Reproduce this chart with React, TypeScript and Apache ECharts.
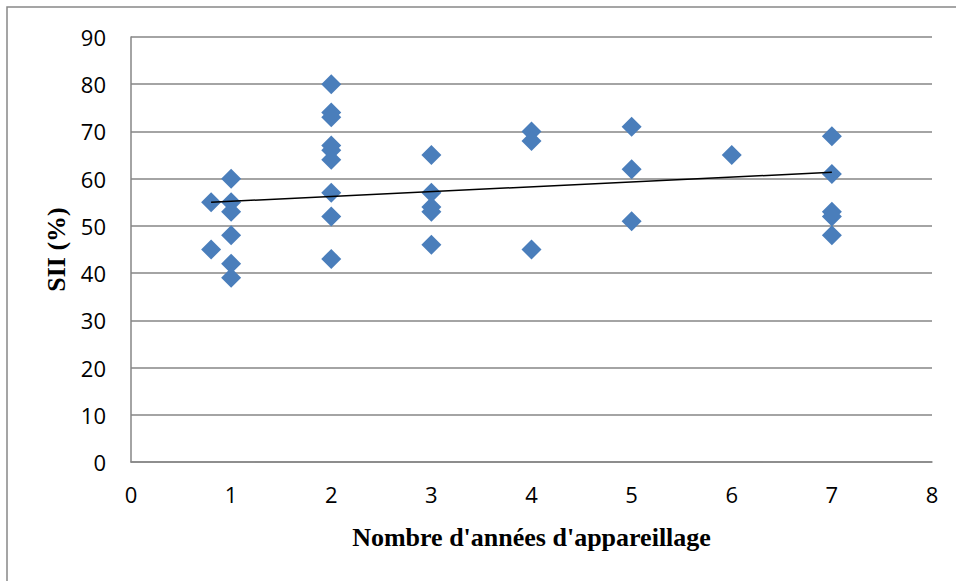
import React, { useEffect, useRef } from "react";
import * as echarts from "echarts";

const xValues = [0.8, 0.8, 1, 1, 1, 1, 1, 1, 2, 2, 2, 2, 2, 2, 2, 2, 2, 3, 3, 3, 3, 3, 4, 4, 4, 5, 5, 5, 6, 7, 7, 7, 7, 7];
const yValues = [55, 45, 60, 55, 53, 48, 42, 39, 80, 74, 73, 67, 66, 64, 57, 52, 43, 65, 57, 54, 53, 46, 70, 68, 45, 71, 62, 51, 65, 69, 61, 53, 52, 48];
const trendX = [0.8, 7];
const trendY = [55.0, 61.35];
const xTitle = "Nombre d'années d'appareillage";
const yTitle = "SII (%)";

export default function App() {
  const ref = useRef<HTMLDivElement>(null);
  useEffect(() => {
    if (!ref.current) return;
    const chart = echarts.init(ref.current, null, { renderer: "svg" });
    const labelFont = { fontFamily: "'Open Sans', 'Noto Sans', sans-serif", fontSize: 22, color: "#000" };
    const titleFont = { fontFamily: "'Liberation Serif', 'Times New Roman', serif", fontWeight: "bold", fontSize: 26, color: "#000" };
    chart.setOption({
      animation: false,
      backgroundColor: "#fff",
      graphic: [
        { type: "rect", shape: { x: 7, y: 7, width: 1000, height: 700 }, style: { fill: "none", stroke: "#888888", lineWidth: 1.5 }, silent: true, z: -1 },
      ],
      grid: { left: 131, right: 24, top: 37, bottom: 119 },
      xAxis: {
        type: "value", min: 0, max: 8, interval: 1,
        axisLine: { show: true, lineStyle: { color: "#868686", width: 1.5 } },
        axisTick: { show: false },
        splitLine: { show: false },
        axisLabel: { ...labelFont, margin: 21 },
        name: xTitle, nameLocation: "middle", nameGap: 62,
        nameTextStyle: titleFont,
      },
      yAxis: {
        type: "value", min: 0, max: 90, interval: 10,
        axisLine: { show: true, lineStyle: { color: "#868686", width: 1.5 } },
        axisTick: { show: false },
        splitLine: { show: true, lineStyle: { color: "#868686", width: 1.5 } },
        axisLabel: { ...labelFont, margin: 25 },
        name: yTitle, nameLocation: "middle", nameGap: 59, nameRotate: 90,
        nameTextStyle: titleFont,
      },
      series: [
        {
          type: "scatter",
          symbol: "diamond",
          symbolSize: [20, 20],
          itemStyle: { color: "#4a7ebb", opacity: 1 },
          data: xValues.map((x, i) => [x, yValues[i]]),
          z: 2,
        },
        {
          type: "line",
          data: trendX.map((x, i) => [x, trendY[i]]),
          symbol: "none",
          lineStyle: { color: "#000", width: 1.5 },
          z: 3,
        },
      ],
    });
    return () => chart.dispose();
  }, []);
  return <div ref={ref} style={{ position: "fixed", left: 0, top: 0, width: 956, height: 581 }} />;
}
